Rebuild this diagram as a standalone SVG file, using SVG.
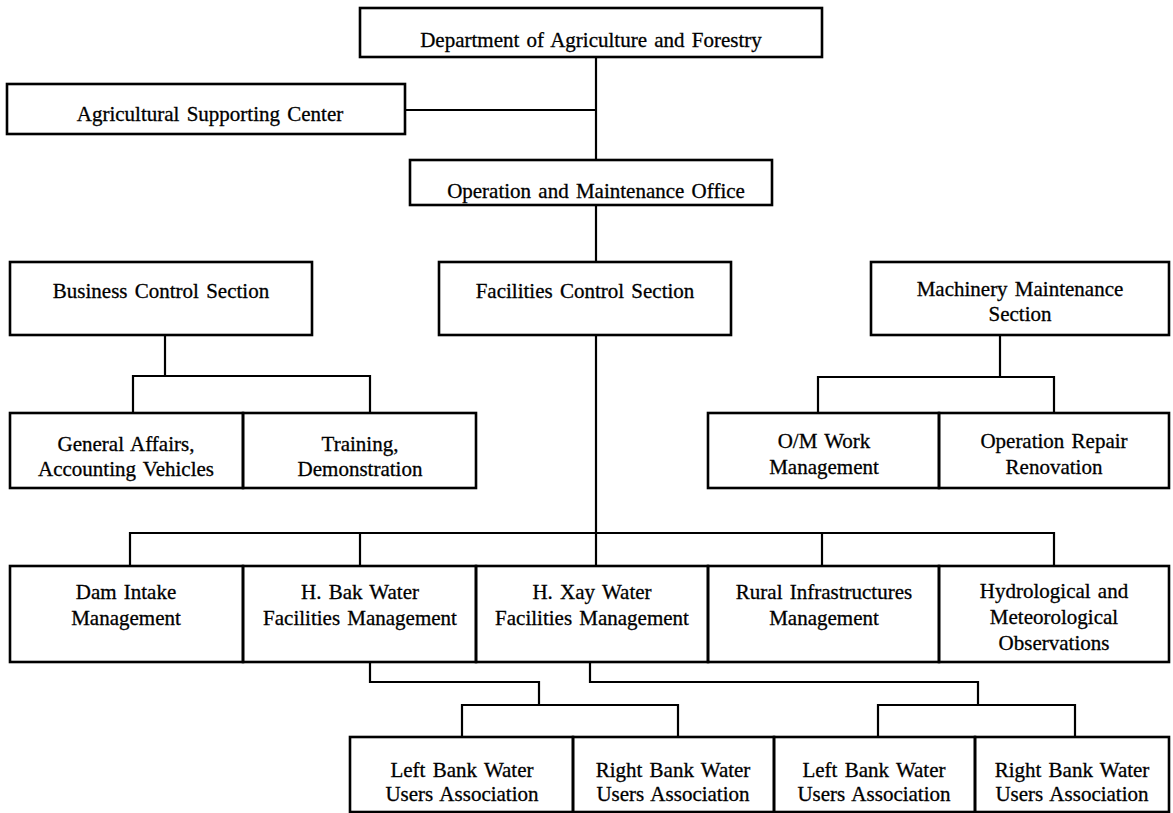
<svg xmlns="http://www.w3.org/2000/svg" width="1173" height="813" viewBox="0 0 1173 813">
  <style>
    .box { fill: none; stroke: #000; stroke-width: 2.6; }
    .ln { fill: none; stroke: #000; stroke-width: 2.2; }
    .t { font-family: "Liberation Serif", "Times New Roman", serif; font-size: 21px; text-anchor: middle; fill: #000; stroke: #000; stroke-width: 0.3; word-spacing: 2px; }
  </style>
  <rect width="1173" height="813" fill="#fff"/>

  <!-- connectors -->
  <g id="connectors">
    <!-- department to O&M office, with the supporting center branch -->
    <path class="ln" d="M596 57 V160"/>
    <path class="ln" d="M405 110 H596"/>
    <!-- O&M office to facilities section and on to the management row -->
    <path class="ln" d="M596 205 V262"/>
    <path class="ln" d="M596 335 V566"/>
    <path class="ln" d="M130 566 V533 H1054 V566"/>
    <path class="ln" d="M360 533 V566"/>
    <path class="ln" d="M822 533 V566"/>
    <!-- business control section split -->
    <path class="ln" d="M165 335 V376"/>
    <path class="ln" d="M133 413 V376 H370 V413"/>
    <!-- machinery maintenance section split -->
    <path class="ln" d="M1000 335 V377"/>
    <path class="ln" d="M818 413 V377 H1054 V413"/>
    <!-- water users associations under H. Bak -->
    <path class="ln" d="M370 662 V682 H539 V705"/>
    <path class="ln" d="M462 737 V705 H678 V737"/>
    <!-- water users associations under H. Xay -->
    <path class="ln" d="M590 662 V682 H978 V705"/>
    <path class="ln" d="M878 737 V705 H1075 V737"/>
  </g>

  <g id="dept">
    <rect class="box" x="360" y="8" width="462" height="49"/>
    <text class="t" x="591" y="47">Department of Agriculture and Forestry</text>
  </g>
  <g id="asc">
    <rect class="box" x="7" y="84" width="398" height="50"/>
    <text class="t" x="210" y="121">Agricultural Supporting Center</text>
  </g>
  <g id="om-office">
    <rect class="box" x="410" y="160" width="362" height="45"/>
    <text class="t" x="596" y="198">Operation and Maintenance Office</text>
  </g>

  <g id="business">
    <rect class="box" x="10" y="262" width="302" height="73"/>
    <text class="t" x="161" y="298">Business Control Section</text>
  </g>
  <g id="facilities">
    <rect class="box" x="439" y="262" width="292" height="73"/>
    <text class="t" x="585" y="298">Facilities Control Section</text>
  </g>
  <g id="machinery">
    <rect class="box" x="871" y="262" width="298" height="73"/>
    <text class="t" x="1020" y="296">Machinery Maintenance</text>
    <text class="t" x="1020" y="321">Section</text>
  </g>

  <g id="general-affairs">
    <rect class="box" x="10" y="413" width="233" height="75"/>
    <text class="t" x="126" y="451">General Affairs,</text>
    <text class="t" x="126" y="476">Accounting Vehicles</text>
  </g>
  <g id="training">
    <rect class="box" x="243" y="413" width="233" height="75"/>
    <text class="t" x="360" y="451">Training,</text>
    <text class="t" x="360" y="476">Demonstration</text>
  </g>
  <g id="om-work">
    <rect class="box" x="708" y="413" width="231" height="75"/>
    <text class="t" x="824" y="448">O/M Work</text>
    <text class="t" x="824" y="474">Management</text>
  </g>
  <g id="repair">
    <rect class="box" x="939" y="413" width="230" height="75"/>
    <text class="t" x="1054" y="448">Operation Repair</text>
    <text class="t" x="1054" y="474">Renovation</text>
  </g>

  <g id="dam">
    <rect class="box" x="10" y="566" width="233" height="96"/>
    <text class="t" x="126" y="599">Dam Intake</text>
    <text class="t" x="126" y="625">Management</text>
  </g>
  <g id="hbak">
    <rect class="box" x="243" y="566" width="233" height="96"/>
    <text class="t" x="360" y="599">H. Bak Water</text>
    <text class="t" x="360" y="625">Facilities Management</text>
  </g>
  <g id="hxay">
    <rect class="box" x="476" y="566" width="232" height="96"/>
    <text class="t" x="592" y="599">H. Xay Water</text>
    <text class="t" x="592" y="625">Facilities Management</text>
  </g>
  <g id="rural">
    <rect class="box" x="708" y="566" width="231" height="96"/>
    <text class="t" x="824" y="599">Rural Infrastructures</text>
    <text class="t" x="824" y="625">Management</text>
  </g>
  <g id="hydro">
    <rect class="box" x="939" y="566" width="230" height="96"/>
    <text class="t" x="1054" y="598">Hydrological and</text>
    <text class="t" x="1054" y="624">Meteorological</text>
    <text class="t" x="1054" y="650">Observations</text>
  </g>

  <g id="hbak-left">
    <rect class="box" x="350" y="737" width="223" height="75"/>
    <text class="t" x="462" y="777">Left Bank Water</text>
    <text class="t" x="462" y="801">Users Association</text>
  </g>
  <g id="hbak-right">
    <rect class="box" x="573" y="737" width="201" height="75"/>
    <text class="t" x="673" y="777">Right Bank Water</text>
    <text class="t" x="673" y="801">Users Association</text>
  </g>
  <g id="hxay-left">
    <rect class="box" x="774" y="737" width="201" height="75"/>
    <text class="t" x="874" y="777">Left Bank Water</text>
    <text class="t" x="874" y="801">Users Association</text>
  </g>
  <g id="hxay-right">
    <rect class="box" x="975" y="737" width="194" height="75"/>
    <text class="t" x="1072" y="777">Right Bank Water</text>
    <text class="t" x="1072" y="801">Users Association</text>
  </g>
</svg>
